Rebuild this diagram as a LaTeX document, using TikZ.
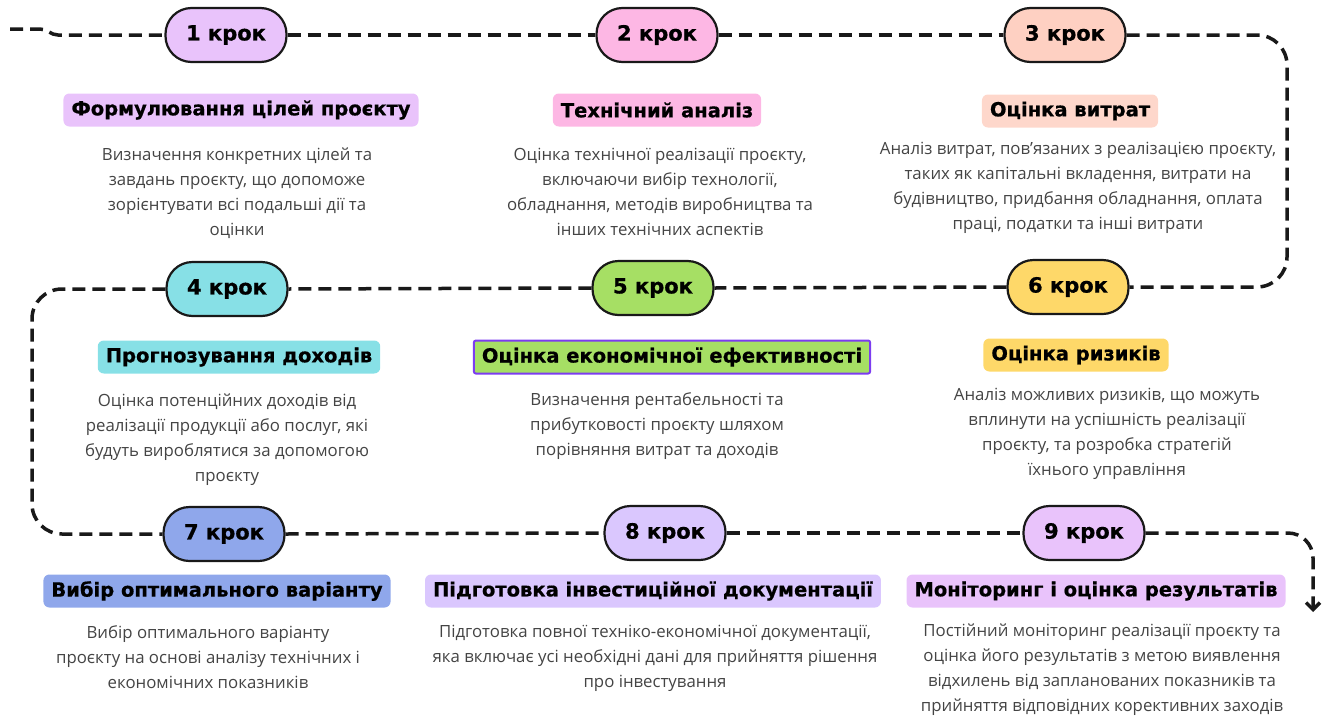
\documentclass[tikz,border=0pt]{standalone}
\usepackage{fontspec}
\setmainfont{Open Sans}
\newfontfamily\headfont{DejaVu Sans}[BoldFeatures={FakeBold=0.6}]
\usetikzlibrary{positioning, arrows.meta}

\definecolor{lilac}{HTML}{E9C3FB}
\definecolor{rose}{HTML}{FDB7E4}
\definecolor{peach}{HTML}{FED0C2}
\definecolor{aqua}{HTML}{87E0E6}
\definecolor{lime}{HTML}{A6DF64}
\definecolor{sun}{HTML}{FED869}
\definecolor{cornflower}{HTML}{8FA7EB}
\definecolor{lavender}{HTML}{DAC7FE}
\definecolor{violet}{HTML}{7C3CF0}
\definecolor{txtgray}{HTML}{444444}

\tikzset{
    krok/.style={draw=black!90, line width=2.2pt, rounded corners=26pt,
        minimum width=121pt, minimum height=54pt, inner sep=0pt,
        font=\headfont\bfseries\fontsize{21}{24}\selectfont},
    heading/.style={rounded corners=6pt, minimum height=33pt, inner xsep=8pt,
        font=\headfont\bfseries\fontsize{19.5}{22}\selectfont},
    desc/.style={align=center, text=txtgray, inner sep=0pt, anchor=north,
        font=\fontsize{16.8}{25}\selectfont},
    trail/.style={draw=black!90, line width=3.5pt, dash pattern=on 13pt off 7pt},
}

\begin{document}
\begin{tikzpicture}[x=1pt, y=-1pt]
    \useasboundingbox (0,0) rectangle (1327,715);

    % steps
    \node[krok, fill=lilac]      (k1) at (226,35)  {1 крок};
    \node[krok, fill=rose]       (k2) at (657,35)  {2 крок};
    \node[krok, fill=peach]      (k3) at (1065,35) {3 крок};
    \node[krok, fill=aqua]       (k4) at (227,289) {4 крок};
    \node[krok, fill=lime]       (k5) at (653,288) {5 крок};
    \node[krok, fill=sun]        (k6) at (1068,287) {6 крок};
    \node[krok, fill=cornflower] (k7) at (224,534) {7 крок};
    \node[krok, fill=lavender]   (k8) at (665,533) {8 крок};
    \node[krok, fill=lilac]      (k9) at (1084,533) {9 крок};

    % headings
    \node[heading, fill=lilac]      (h1) at (241,110)  {Формулювання цілей проєкту};
    \node[heading, fill=rose]       (h2) at (657,110)  {Технічний аналіз};
    \node[heading, fill=peach!85]   (h3) at (1070,111) {Оцінка витрат};
    \node[heading, fill=aqua]       (h4) at (239,357)  {Прогнозування доходів};
    \node[heading, fill=lime, draw=violet, line width=2pt, rounded corners=2pt] (h5) at (672,357) {Оцінка економічної ефективності};
    \node[heading, fill=sun]        (h6) at (1076,355) {Оцінка ризиків};
    \node[heading, fill=cornflower] (h7) at (217,591)  {Вибір оптимального варіанту};
    \node[heading, fill=lavender]   (h8) at (653,591)  {Підготовка інвестиційної документації};
    \node[heading, fill=lilac]      (h9) at (1096,591) {Моніторинг і оцінка результатів};

    % descriptions
    \node[desc] (d1) at (237,148) {Визначення конкретних цілей та\\завдань проєкту, що допоможе\\зорієнтувати всі подальші дії та\\оцінки};
    \node[desc] (d2) at (660,148) {Оцінка технічної реалізації проєкту,\\включаючи вибір технології,\\обладнання, методів виробництва та\\інших технічних аспектів};
    \node[desc] (d3) at (1078,142) {Аналіз витрат, пов’язаних з реалізацією проєкту,\\таких як капітальні вкладення, витрати на\\будівництво, придбання обладнання, оплата\\праці, податки та інші витрати};
    \node[desc] (d4) at (227,394) {Оцінка потенційних доходів від\\реалізації продукції або послуг, які\\будуть вироблятися за допомогою\\проєкту};
    \node[desc] (d5) at (657,392) {Визначення рентабельності та\\прибутковості проєкту шляхом\\порівняння витрат та доходів};
    \node[desc] (d6) at (1107,388) {Аналіз можливих ризиків, що можуть\\вплинути на успішність реалізації\\проєкту, та розробка стратегій\\їхнього управління};
    \node[desc] (d7) at (208,625) {Вибір оптимального варіанту\\проєкту на основі аналізу технічних і\\економічних показників};
    \node[desc] (d8) at (655,625) {Підготовка повної техніко-економічної документації,\\яка включає усі необхідні дані для прийняття рішення\\про інвестування};
    \node[desc] (d9) at (1102,624) {Постійний моніторинг реалізації проєкту та\\оцінка його результатів з метою виявлення\\відхилень від запланованих показників та\\прийняття відповідних корективних заходів};

    % dashed route
    \coordinate (in)  at (10,29);
    \coordinate (ne)  at (1287,35);
    \coordinate (se)  at (1287,287);
    \coordinate (nw)  at (32,289);
    \coordinate (sw)  at (32,534);
    \coordinate (turn) at (1313,533);
    \coordinate (out) at (1313,612);

    \draw[trail] (in) -- (40,29) to[out=0, in=180] (58,35) -- (k1.west);
    \draw[trail] (k1.east) -- (k2.west);
    \draw[trail] (k2.east) -- (k3.west);
    \draw[trail, rounded corners=30pt] (k3.east) -- (ne) -- (se) -- (k6.east);
    \draw[trail] (k6.west) -- (k5.east);
    \draw[trail] (k5.west) -- (k4.east);
    \draw[trail, rounded corners=30pt] (k4.west) -- (nw) -- (sw) -- (k7.west);
    \draw[trail] (k7.east) -- (k8.west);
    \draw[trail] (k8.east) -- (k9.west);
    \draw[trail, rounded corners=25pt, -{Straight Barb[length=7pt, width=14pt]}] (k9.east) -- (turn) -- (out);
\end{tikzpicture}
\end{document}
